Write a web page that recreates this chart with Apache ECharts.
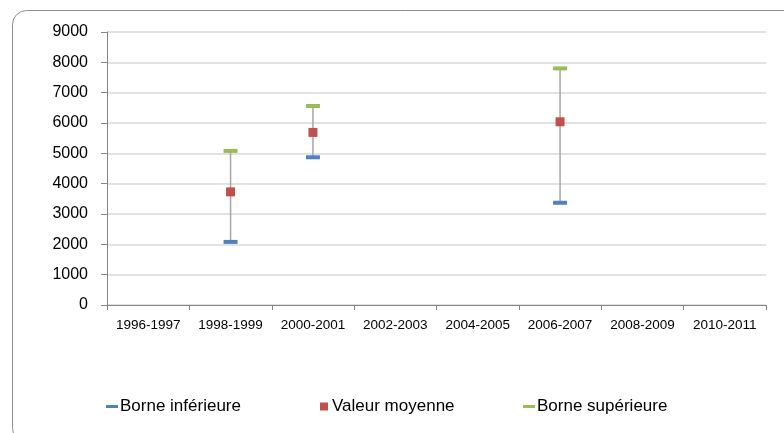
<!DOCTYPE html>
<html>
<head>
<meta charset="utf-8">
<style>html,body{margin:0;padding:0;background:#fff;}#c{width:784px;height:433px;}</style>
<script src="https://cdn.jsdelivr.net/npm/echarts@6/dist/echarts.min.js"></script>
</head>
<body>
<div id="c"></div>
<script>
var categories = ['1996-1997','1998-1999','2000-2001','2002-2003','2004-2005','2006-2007','2008-2009','2010-2011'];
var lowerValues = [null, 2080, 4870, null, null, 3370, null, null];
var meanValues  = [null, 3730, 5690, null, null, 6040, null, null];
var upperValues = [null, 5080, 6560, null, null, 7800, null, null];
var yTicks = [0, 9000, 1000];

var FONT = 'Liberation Sans';
var chart = echarts.init(document.getElementById('c'));
var rangeData = [];
for (var i = 0; i < categories.length; i++) {
  if (lowerValues[i] != null && upperValues[i] != null) rangeData.push([i, lowerValues[i], upperValues[i]]);
}
var dashIcon = 'path://M0,0h12v3h-12z';
var sqIcon = 'path://M0,0h1v1h-1z';
function lg(left, name, icon, color) {
  return {
    left: left, top: 393, itemWidth: 12, itemHeight: 8, itemGap: 0,
    data: [{name: name, icon: icon, itemStyle: {color: color, opacity: 1}}],
    textStyle: {fontFamily: FONT, fontSize: 17, color: '#000', padding: [0,0,0,-3]},
    selectedMode: false
  };
}
chart.setOption({
  animation: false,
  textStyle: {fontFamily: FONT},
  graphic: [{
    type: 'rect', z: -1,
    shape: {x: 12.5, y: 10.5, width: 790, height: 432, r: 14},
    style: {fill: 'none', stroke: '#8e8e8e', lineWidth: 1}
  }],
  legend: [
    lg(101, 'Borne inférieure', dashIcon, '#4f81bd'),
    lg(315, 'Valeur moyenne', sqIcon, '#c0504d'),
    lg(518, 'Borne supérieure', dashIcon, '#9bbb59')
  ],
  grid: {left: 107, right: 18, top: 32, bottom: 128},
  xAxis: {
    type: 'category', data: categories, boundaryGap: true,
    axisLine: {lineStyle: {color: '#868686', width: 1}},
    axisTick: {show: true, interval: 0, length: 5, lineStyle: {color: '#868686'}},
    axisLabel: {interval: 0, fontSize: 13.5, color: '#000', margin: 13, fontFamily: FONT},
    splitLine: {show: false}
  },
  yAxis: {
    type: 'value', min: yTicks[0], max: yTicks[1], interval: yTicks[2],
    axisLine: {show: true, lineStyle: {color: '#868686', width: 1}},
    axisTick: {show: true, length: 6, lineStyle: {color: '#868686'}},
    axisLabel: {fontSize: 16, color: '#000', margin: 19, fontFamily: FONT,
                formatter: function (v) { return String(v); }},
    splitLine: {lineStyle: {color: '#d9d9d9', width: 1.5}}
  },
  series: [
    {
      type: 'custom', name: 'range', data: rangeData, z: 1,
      renderItem: function (params, api) {
        var p1 = api.coord([api.value(0), api.value(1)]);
        var p2 = api.coord([api.value(0), api.value(2)]);
        return {type: 'line', shape: {x1: p1[0], y1: p1[1], x2: p2[0], y2: p2[1]},
                style: {stroke: '#a6a6a6', lineWidth: 1.5}};
      },
      encode: {x: 0, y: [1, 2]}, silent: true
    },
    {type: 'scatter', name: 'Borne inférieure', data: lowerValues, symbol: 'rect', symbolSize: [14, 4], itemStyle: {color: '#4f81bd', opacity: 1}, z: 3},
    {type: 'scatter', name: 'Valeur moyenne', data: meanValues, symbol: 'rect', symbolSize: 9, itemStyle: {color: '#c0504d', opacity: 1}, z: 3},
    {type: 'scatter', name: 'Borne supérieure', data: upperValues, symbol: 'rect', symbolSize: [14, 4], itemStyle: {color: '#9bbb59', opacity: 1}, z: 3}
  ]
});
</script>
</body>
</html>
